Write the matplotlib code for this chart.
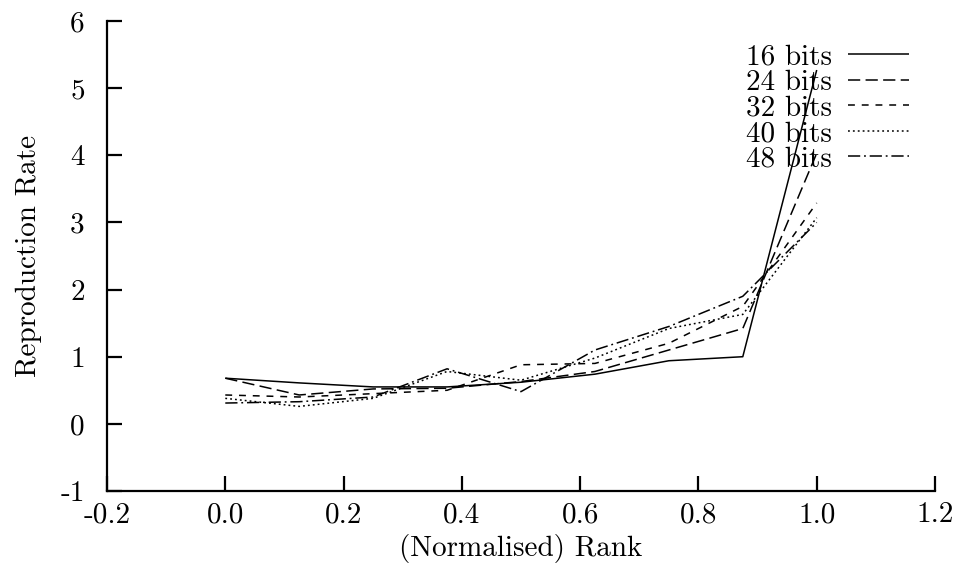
import matplotlib
matplotlib.use("Agg")
import matplotlib.pyplot as plt

plt.rcParams['font.family'] = ['cmr10', 'DejaVu Serif']
plt.rcParams['axes.unicode_minus'] = False
plt.rcParams['mathtext.fontset'] = 'cm'

rank = [0.0, 0.125, 0.25, 0.375, 0.5, 0.625, 0.75, 0.875, 1.0]
bits16 = [0.68, 0.61, 0.55, 0.55, 0.62, 0.74, 0.94, 1.00, 5.27]
bits24 = [0.68, 0.43, 0.52, 0.53, 0.63, 0.78, 1.10, 1.42, 4.03]
bits32 = [0.43, 0.40, 0.45, 0.50, 0.88, 0.90, 1.20, 1.75, 3.29]
bits40 = [0.38, 0.26, 0.38, 0.78, 0.65, 0.98, 1.42, 1.63, 3.07]
bits48 = [0.31, 0.33, 0.40, 0.82, 0.48, 1.10, 1.45, 1.90, 3.00]

labels = ["16 bits", "24 bits", "32 bits", "40 bits", "48 bits"]
series = [bits16, bits24, bits32, bits40, bits48]
styles = [(0, ()), (0, (8, 3.5)), (0, (4.5, 4.5)), (0, (1.2, 2.0)), (0, (8, 2.5, 1.2, 2.5))]

xticks = [-0.2, 0.0, 0.2, 0.4, 0.6, 0.8, 1.0, 1.2]
xticklabels = ["-0.2", "0.0", "0.2", "0.4", "0.6", "0.8", "1.0", "1.2"]
yticks = [-1, 0, 1, 2, 3, 4, 5, 6]
yticklabels = ["-1", "0", "1", "2", "3", "4", "5", "6"]

FS = 21

fig = plt.figure(figsize=(9.59, 5.74), dpi=100)
ax = fig.add_axes([107/959, 83/574, 828/959, 470/574])

for vals, lab, ls in zip(series, labels, styles):
    ax.plot(rank, vals, color='black', linewidth=1.1, linestyle=ls, label=lab)

ax.set_xlim(-0.2, 1.2)
ax.set_ylim(-1, 6)
ax.set_xticks(xticks)
ax.set_xticklabels(xticklabels)
ax.set_yticks(yticks)
ax.set_yticklabels(yticklabels)

for s in ['top', 'right']:
    ax.spines[s].set_visible(False)
for s in ['left', 'bottom']:
    ax.spines[s].set_linewidth(1.6)

ax.tick_params(axis='both', direction='in', length=11, width=1.6, labelsize=FS)
ax.tick_params(axis='y', pad=16)
ax.tick_params(axis='x', pad=8)

ax.set_xlabel("(Normalised) Rank", fontsize=FS, labelpad=4)
ax.set_ylabel("Reproduction Rate", fontsize=FS, labelpad=13)

leg = ax.legend(loc='upper right', bbox_to_anchor=(909/959, 1 - 44/574),
                bbox_transform=fig.transFigure, frameon=False, markerfirst=False,
                fontsize=FS, handlelength=2.1, labelspacing=-0.03, handletextpad=0.55,
                borderpad=0, borderaxespad=0)

fig.savefig("out.png", dpi=100)
